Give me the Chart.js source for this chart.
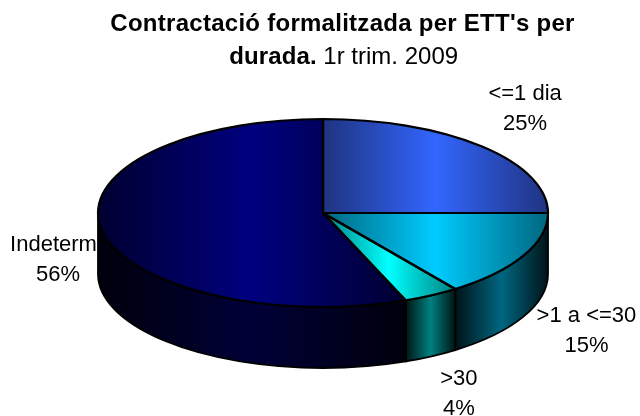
<!DOCTYPE html>
<html><head><meta charset="utf-8">
<style>html,body{margin:0;padding:0;background:#fff}#w{width:640px;height:416px}</style>
<script src="https://cdn.jsdelivr.net/npm/chart.js@4/dist/chart.umd.min.js"></script>
</head><body><div id="w"><canvas id="c" width="640" height="416"></canvas></div>
<script>
const titleLine1 = "Contractació formalitzada per ETT's per";
const titleBold = "durada.";
const titleRegular = " 1r trim. 2009";
const categories = ["<=1 dia", ">1 a <=30", ">30", "Indeterm"];
const shares = [25, 15, 4, 56];
const percentLabels = ["25%", "15%", "4%", "56%"];
const topColors = [["#1f3380","#3366ff"],["#00667f","#00ccff"],["#008080","#00ffff"],["#000030","#000080"]];
const wallColors = [["#0a1433","#1a3380"],["#001318","#006680"],["#001414","#008080"],["#00000c","#000038"]];
const labelNudge = [[43,-47],[63,66],[27.5,90],[-44,20.4]];
const nameShift = [0,0,0,-4.5];
const SQUASH = 94/225, DEPTH = 61, RADIUS = 225;
const FONT = '"Liberation Sans", Arial, sans-serif';

function grad(ctx, x0, x1, pair){
  const g = ctx.createLinearGradient(x0,0,x1,0);
  g.addColorStop(0,pair[0]); g.addColorStop(0.5,pair[1]); g.addColorStop(1,pair[0]);
  return g;
}
function span(el, a, b){
  const xs = [el.x + el.outerRadius*Math.cos(a), el.x + el.outerRadius*Math.cos(b)];
  for (let k=-4;k<=4;k++){ const t=k*Math.PI; if (t>a && t<b && k%2===0) xs.push(el.x+el.outerRadius); if(t>a&&t<b&&k%2!==0) xs.push(el.x-el.outerRadius); }
  return [Math.min(...xs), Math.max(...xs)];
}
const pie3d = {
  id:'pie3d',
  afterLayout(chart){
    chart.titleBlock.left += 19.5; chart.titleBlock.right += 19.5;
  },
  beforeDraw(chart){ chart.ctx.letterSpacing = '0.27px'; },
  beforeDatasetsDraw(chart){
    const ctx = chart.ctx, arcs = chart.getDatasetMeta(0).data;
    ctx.letterSpacing = '0px';
    arcs.forEach((el,i)=>{
      const a = Math.max(el.startAngle,0), b = Math.min(el.endAngle,Math.PI);
      if (b>a){
        const ry = el.outerRadius*SQUASH, s = span(el,a,b);
        ctx.beginPath();
        ctx.ellipse(el.x,el.y,el.outerRadius,ry,0,a,b);
        ctx.ellipse(el.x,el.y+DEPTH,el.outerRadius,ry,0,b,a,true);
        ctx.closePath();
        ctx.fillStyle = grad(ctx,s[0],s[1],wallColors[i]);
        ctx.fill();
        ctx.lineWidth = 1.8; ctx.strokeStyle = '#000'; ctx.stroke();
      }
      const s2 = span(el,el.startAngle,el.endAngle);
      const sx = [el.x, ...s2];
      el.options.backgroundColor = grad(ctx,Math.min(...sx),Math.max(...sx),topColors[i]);
    });
    const c = arcs[0];
    ctx.save();
    ctx.translate(c.x,c.y); ctx.scale(1,SQUASH); ctx.translate(-c.x,-c.y);
  },
  afterDatasetsDraw(chart){
    const ctx = chart.ctx, arcs = chart.getDatasetMeta(0).data;
    ctx.restore();
    arcs.forEach(el=>{
      ctx.beginPath();
      ctx.moveTo(el.x,el.y);
      ctx.ellipse(el.x,el.y,el.outerRadius,el.outerRadius*SQUASH,0,el.startAngle,el.endAngle);
      ctx.closePath();
      ctx.lineWidth = 2.2; ctx.strokeStyle = '#000'; ctx.lineJoin='round'; ctx.stroke();
    });
  },
  afterDraw(chart){
    const ctx = chart.ctx, arcs = chart.getDatasetMeta(0).data;
    ctx.save();
    ctx.textBaseline='alphabetic'; ctx.fillStyle='#000'; ctx.textAlign='left';
    ctx.font = 'bold 24px '+FONT; ctx.letterSpacing='0.1px';
    const w1 = ctx.measureText(titleBold).width;
    const x0 = arcs[0].x+20.5-(w1+141)/2;
    ctx.fillText(titleBold,x0,64);
    ctx.font = '24px '+FONT; ctx.letterSpacing='0px';
    ctx.fillText(titleRegular,x0+w1,64);
    ctx.textAlign='center'; ctx.font='22px '+FONT;
    arcs.forEach((el,i)=>{
      const m = (el.startAngle+el.endAngle)/2;
      const px = el.x + el.outerRadius*Math.cos(m) + labelNudge[i][0];
      const py = el.y + el.outerRadius*SQUASH*Math.sin(m) + labelNudge[i][1];
      ctx.fillText(categories[i], px+nameShift[i], py);
      ctx.fillText(percentLabels[i], px, py+30);
    });
    ctx.restore();
  }
};
new Chart(document.getElementById('c'),{
  type:'pie',
  data:{labels:categories,datasets:[{data:shares,borderWidth:0,backgroundColor:topColors.map(p=>p[1]),clip:false}]},
  options:{
    responsive:false,animation:false,radius:RADIUS,
    layout:{padding:{left:6,right:0,top:0,bottom:28.3}},
    plugins:{
      legend:{display:false},tooltip:{enabled:false},
      title:{display:true,text:titleLine1,color:'#000',font:{family:FONT,size:24,weight:'bold'},padding:{top:9.5,bottom:0}}
    }
  },
  plugins:[pie3d]
});
</script></body></html>
